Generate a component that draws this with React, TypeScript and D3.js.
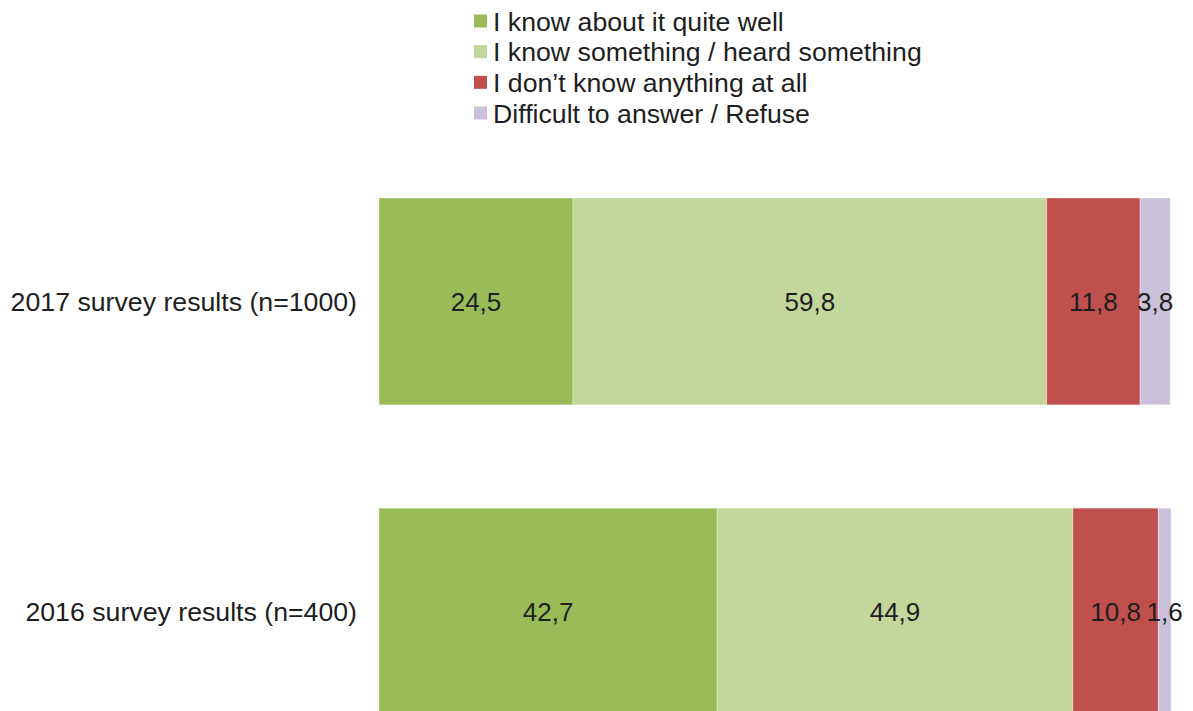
import React from "react";
import * as d3 from "d3";

const categories = ["2017 survey results (n=1000)", "2016 survey results (n=400)"];
const seriesNames = [
  "I know about it quite well",
  "I know something / heard something",
  "I don\u2019t know anything at all",
  "Difficult to answer / Refuse",
];
const knowWell = [24.5, 42.7];
const knowSomething = [59.8, 44.9];
const knowNothing = [11.8, 10.8];
const difficult = [3.8, 1.6];
const colors = ["#9BBB59", "#C3D69B", "#C0504D", "#CCC1DA"];

const W = 1193;
const H = 711;
const FONT = "'Liberation Sans', Arial, sans-serif";

export default function App() {
  const seriesValues = [knowWell, knowSomething, knowNothing, difficult];
  const x = d3.scaleLinear().domain([0, 100]).range([379, 1171]);
  const y = d3.scaleBand<string>().domain(categories).range([198, 715]).paddingInner(0.333).paddingOuter(0);
  const fmt = (v: number) => v.toFixed(1).replace(".", ",");

  const rows = categories.map((c, ci) => {
    let acc = 0;
    return seriesValues.map((vals, si) => {
      const v = vals[ci];
      const x0 = acc;
      acc += v;
      return { c, si, v, x0, x1: acc };
    });
  });

  const legendY = d3.scalePoint<string>().domain(seriesNames).range([21, 113]);

  return (
    <svg width={W} height={H} style={{ position: "absolute", left: 0, top: 0, background: "#fff" }} fontFamily={FONT}>
      {seriesNames.map((name, i) => (
        <g key={name} transform={`translate(474, ${legendY(name)})`}>
          <rect x={0} y={-6.5} width={13} height={13} fill={colors[i]} />
          <text x={19} y={0} dy="0.36em" fontSize={26.7} fill="#1e1e1e">{name}</text>
        </g>
      ))}
      {rows.map((segs, ci) => {
        const cy = (y(categories[ci]) as number) + y.bandwidth() / 2;
        return (
          <g key={categories[ci]}>
            <text x={357} y={cy} dy="0.36em" textAnchor="end" fontSize={26.7} fill="#1e1e1e">{categories[ci]}</text>
            {segs.map((s) => (
              <rect key={s.si} x={x(s.x0)} y={y(s.c)} width={x(s.x1) - x(s.x0)} height={y.bandwidth()} fill={colors[s.si]} stroke="#fff" strokeOpacity={0.35} strokeWidth={1} />
            ))}
            {segs.map((s) => (
              <text key={"l" + s.si} x={(x(s.x0) + x(s.x1)) / 2} y={cy} dy="0.36em" textAnchor="middle" fontSize={26} fill="#1e1e1e">{fmt(s.v)}</text>
            ))}
          </g>
        );
      })}
    </svg>
  );
}
